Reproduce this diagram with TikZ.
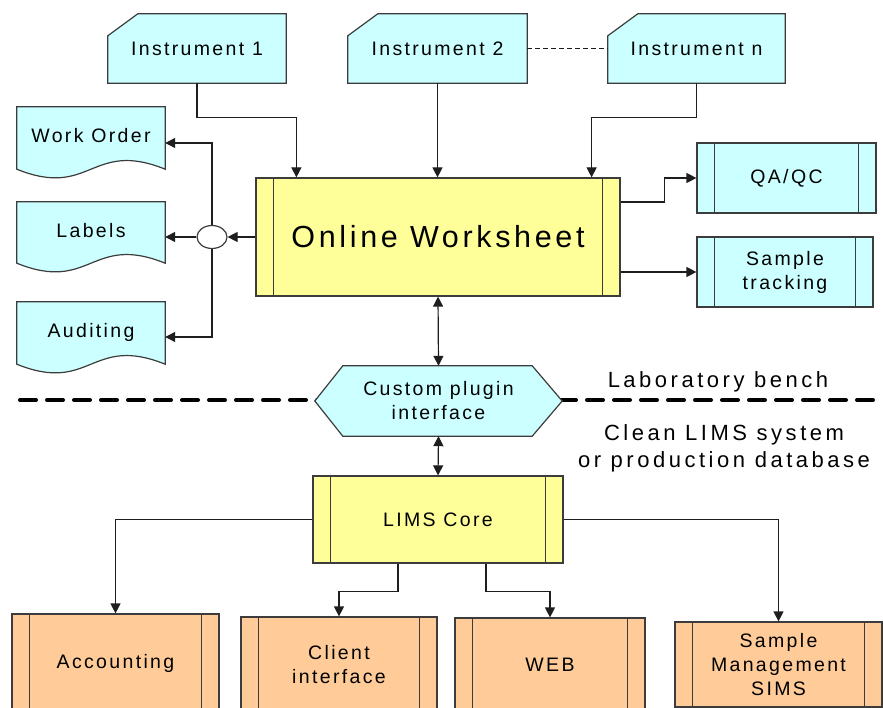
\documentclass[tikz,border=0pt]{standalone}
\usepackage{fontspec}
\setmainfont{Liberation Sans}
\newfontfamily\spaced[LetterSpace=12]{Liberation Sans}
\newfontfamily\wide[LetterSpace=16]{Liberation Sans}
\usetikzlibrary{arrows.meta,shapes.geometric,backgrounds,calc}
\pgfdeclarelayer{canvas}
\pgfsetlayers{canvas,background,main}
\definecolor{cyanfill}{HTML}{CCFFFF}
\definecolor{yellowfill}{HTML}{FFFF99}
\definecolor{orangefill}{HTML}{FFCC99}
\definecolor{edge}{HTML}{3C3C3C}
\definecolor{wire}{HTML}{1E1E1E}
\tikzset{
  lbl/.style={font=\spaced\fontsize{19.5}{24}\selectfont, align=center, inner sep=0pt},
  box/.style={lbl, draw=edge, line width=1.2pt},
  proc/.style={box, path picture={
      \draw[edge, line width=1.2pt]
        ([xshift=17.5pt]path picture bounding box.north west) -- ([xshift=17.5pt]path picture bounding box.south west)
        ([xshift=-17.5pt]path picture bounding box.north east) -- ([xshift=-17.5pt]path picture bounding box.south east);}},
  outline/.style={draw=edge, line width=1.2pt},
  arr/.style={draw=wire, line width=1.2pt, -{Triangle[length=10pt,width=10pt]}},
  biarr/.style={draw=wire, line width=1.2pt, {Triangle[length=10pt,width=10pt]}-{Triangle[length=10pt,width=10pt]}},
  side/.style={font=\wide\fontsize{22}{27}\selectfont, align=center, inner sep=0pt},
}
\begin{document}
\begin{tikzpicture}[x=1pt,y=-1pt]
\useasboundingbox (0,0) rectangle (883,708);
\begin{pgfonlayer}{canvas}
  \fill[white] (0,0) rectangle (883,708);
\end{pgfonlayer}
\clip (0,0) rectangle (883,708);

% instruments
\node[lbl, minimum width=178pt, minimum height=69pt] (i1) at (197,48.5) {Instrument 1};
\node[lbl, minimum width=179pt, minimum height=69pt] (i2) at (437.5,48.5) {Instrument 2};
\node[lbl, minimum width=177pt, minimum height=69pt] (in) at (696.5,48.5) {Instrument n};

% worksheet and its outputs
\node[proc, fill=yellowfill, minimum width=364pt, minimum height=118pt,
      font=\spaced\fontsize{30.5}{36}\selectfont] (ws) at (438,237) {Online Worksheet};
\node[proc, fill=cyanfill, minimum width=179pt, minimum height=70pt] (qa) at (786.5,178) {QA/QC};
\node[proc, fill=cyanfill, minimum width=176pt, minimum height=70pt] (st) at (785,272) {Sample\\tracking};

% printed documents
\node[lbl, minimum width=148pt, minimum height=62pt] (wo) at (91,138) {\raisebox{5pt}{Work Order}};
\node[lbl, minimum width=148pt, minimum height=61pt] (lab) at (91,232.5) {\raisebox{4.5pt}{Labels}};
\node[lbl, minimum width=148pt, minimum height=62pt] (aud) at (91,333) {\raisebox{5pt}{Auditing}};
\node[ellipse, draw=edge, fill=white, line width=1.2pt, minimum width=30pt, minimum height=23pt, inner sep=0pt] (junc) at (212,237) {};

% plugin interface and core
\node[lbl, minimum width=247pt, minimum height=70pt] (hex) at (438.5,401) {Custom plugin\\interface};
\node[proc, fill=yellowfill, minimum width=250pt, minimum height=87pt] (lims) at (438,519.5) {LIMS Core};

% downstream modules
\node[proc, fill=orangefill, minimum width=207pt, minimum height=98pt] (acc) at (115.5,663) {Accounting};
\node[proc, fill=orangefill, minimum width=196pt, minimum height=95pt] (cli) at (339,664.5) {Client\\interface};
\node[proc, fill=orangefill, minimum width=190pt, minimum height=94pt] (web) at (550,665) {WEB};
\node[proc, fill=orangefill, minimum width=207pt, minimum height=85pt] (sims) at (778.5,664.5) {Sample\\Management\\SIMS};

% side captions
\node[side] (bench) at (718,382) {Laboratory bench};
\node[side] (clean) at (724,448) {Clean LIMS system\\or production database};

\begin{scope}[on background layer]
  % boundary between bench and LIMS
  \draw[line width=4pt, line cap=round, dash pattern=on 16pt off 11pt] (20,400) -- (883,400);
  \foreach \i in {i1,i2,in}
    \filldraw[outline, fill=cyanfill] ([yshift=-22pt]\i.north west) -- ([xshift=30pt]\i.north west)
      -- (\i.north east) -- (\i.south east) -- (\i.south west) -- cycle;
  \foreach \d in {wo,lab,aud}
    \filldraw[outline, fill=cyanfill] (\d.north west) -- (\d.south west)
      .. controls ($(\d.south)+(0,30)$) and ($(\d.south)+(0,-30)$) .. (\d.south east)
      -- (\d.north east) -- cycle;
  \filldraw[outline, fill=cyanfill] (hex.west) -- ([xshift=28pt]hex.north west) -- ([xshift=-30pt]hex.north east)
    -- (hex.east) -- ([xshift=-30pt]hex.south east) -- ([xshift=28pt]hex.south west) -- cycle;
\end{scope}

% connectors
\draw[wire, line width=1.8pt, dash pattern=on 5pt off 3pt] (i2.east) -- (in.west);
\draw[arr] (i1.south) -- ++(0,34) -| ([xshift=41pt]ws.north west);
\draw[arr] (i2.south) -- (i2.south |- ws.north);
\draw[arr] (in.south) -- ++(0,34) -| ([xshift=-29pt]ws.north east);
\draw[arr] ([yshift=35pt]ws.east) -- ++(44,0) |- (qa.west);
\draw[arr] (st.west -| ws.east) -- (st.west);
\draw[arr] (ws.west) -- (junc.east);
\draw[arr] (junc.west) -- (junc.west -| lab.east);
\draw[arr] (junc.north) |- ([yshift=-5pt]wo.east);
\draw[arr] (junc.south) |- ([yshift=-4pt]aud.east);
\draw[biarr] (ws.south) -- (hex.north);
\draw[biarr] (hex.south) -- (lims.north);
\draw[arr] (lims.west) -| (acc.north);
\draw[arr] ([xshift=-40pt]lims.south) -- ++(0,28) -| (cli.north);
\draw[arr] ([xshift=48pt]lims.south) -- ++(0,28) -| (web.north);
\draw[arr] (lims.east) -| (sims.north);
\end{tikzpicture}
\end{document}
